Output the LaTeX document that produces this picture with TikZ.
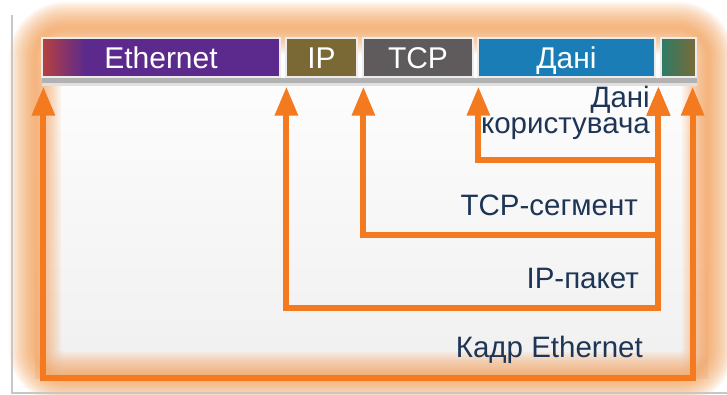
\documentclass[tikz,border=0pt]{standalone}
\usepackage{fontspec}
\setmainfont{Liberation Sans}
\usetikzlibrary{arrows.meta}
\definecolor{arrowor}{HTML}{F47A20}
\definecolor{glowor}{HTML}{F5913F}
\definecolor{navy}{HTML}{1E3556}
\definecolor{ethred}{HTML}{B8413F}
\definecolor{ethpur}{HTML}{5C2A8C}
\definecolor{ipol}{HTML}{7A6934}
\definecolor{tcpgr}{HTML}{5F5B5C}
\definecolor{datab}{HTML}{1A7DB6}
\definecolor{trlg}{HTML}{2C7C64}
\definecolor{trlo}{HTML}{7A6A38}
\pgfdeclarehorizontalshading{ethshade}{100bp}{color(0bp)=(ethred); color(25bp)=(ethred); color(34bp)=(ethpur); color(100bp)=(ethpur)}
\pgfdeclarehorizontalshading{trlshade}{100bp}{color(0bp)=(trlg); color(25bp)=(trlg); color(75bp)=(trlo); color(100bp)=(trlo)}
\begin{document}
\begin{tikzpicture}[x=1pt,y=-1pt,
  seg/.style={minimum height=39pt, inner sep=0pt, draw=white!85!gray, line width=1.2pt,
    text=white, font=\fontsize{30}{32}\selectfont, text height=21pt, text depth=0pt},
  arr/.style={draw=arrowor, line width=6pt,
    {Triangle[length=29pt,width=22pt]}-{Triangle[length=29pt,width=22pt]}},
  lbl/.style={text=navy, font=\fontsize{29.5}{26}\selectfont, inner sep=0pt}]
\useasboundingbox (0,0) rectangle (727,394);
\fill[white] (0,0) rectangle (727,394);
% inner background
\shade[top color=white, bottom color=black!6] (35,28) rectangle (708,378);
% glow
\foreach \w in {52,48,...,4} {
  \draw[glowor, line width=\w pt, opacity=0.075, rounded corners=30pt] (35,28) rectangle (708,378);
}
% frame
\draw[black!22, line width=1.5pt] (12,15) -- (12,393) -- (727,393);
% bar shadow
\fill[black!30] (42,78) rectangle (697,83);
\fill[black!12] (42,83) rectangle (697,86);
% segments
\node[seg, minimum width=238pt, shading=ethshade] (eth) at (161,57.5) {Ethernet};
\node[seg, minimum width=71pt, fill=ipol] (ip) at (321.5,57.5) {IP};
\node[seg, minimum width=110pt, fill=tcpgr] (tcp) at (418,57.5) {TCP};
\node[seg, minimum width=177pt, fill=datab] (data) at (566.5,57.5) {Дані};
\node[seg, minimum width=35pt, shading=trlshade] (trl) at (678.5,57.5) {};
% arrow tips
\coordinate (tD) at ([shift={(1,9)}]data.south west);
\coordinate (tT) at ([shift={(1,9)}]tcp.south west);
\coordinate (tI) at ([shift={(1,9)}]ip.south west);
\coordinate (tE) at ([shift={(2,9)}]eth.south west);
\coordinate (tR) at ([shift={(-2,9)}]trl.south west);
\coordinate (tRR) at ([shift={(-4,9)}]trl.south east);
\coordinate (y1) at (0,160);
\coordinate (y2) at (0,235);
\coordinate (y3) at (0,308);
\coordinate (y4) at (0,378);
% loops
\draw[arr] (tE) -- (tE |- y4) -- (tRR |- y4) -- (tRR);
\draw[arr] (tI) -- (tI |- y3) -- (tR |- y3) -- (tR);
\draw[arr] (tT) -- (tT |- y2) -- (tR |- y2) -- (tR);
\draw[arr] (tD) -- (tD |- y1) -- (tR |- y1) -- (tR);
% labels
\node[lbl, anchor=north east, align=right] (lD) at (650,86) {Дані\\користувача};
\node[lbl, anchor=base east] (lT) at (638,215) {TCP-сегмент};
\node[lbl, anchor=base east] (lI) at (639,288) {IP-пакет};
\node[lbl, anchor=base east] (lE) at (643,357) {Кадр Ethernet};
\end{tikzpicture}
\end{document}
